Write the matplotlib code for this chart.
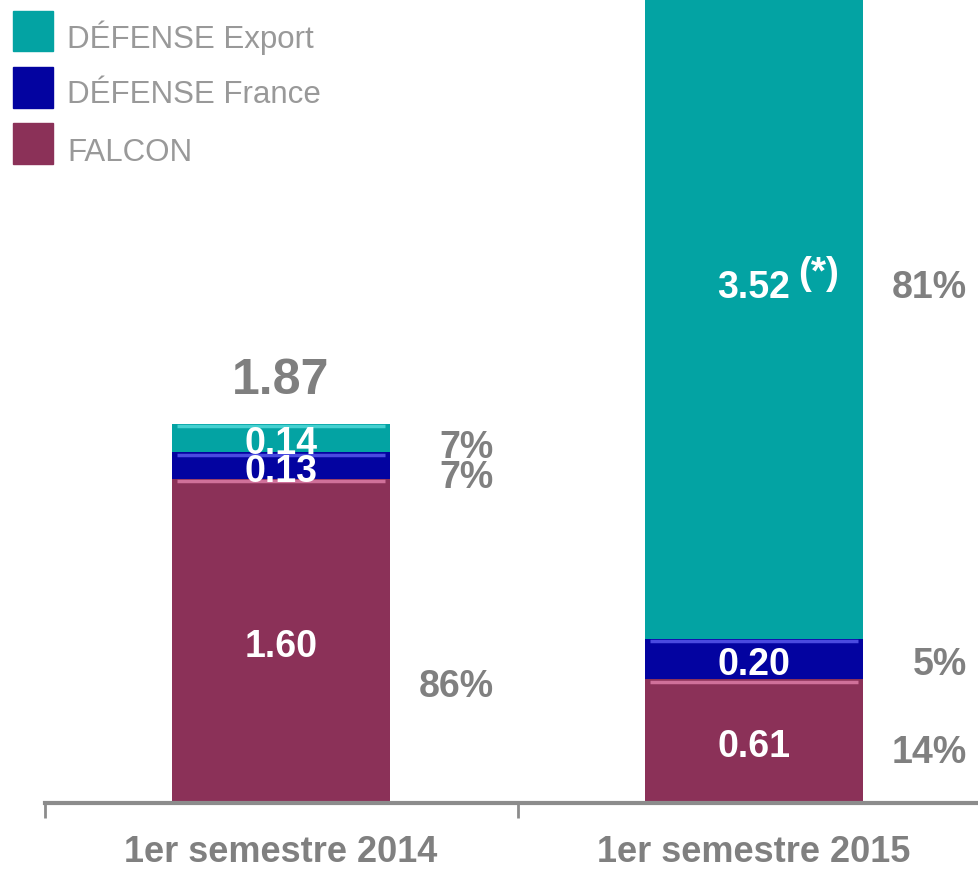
import numpy as np
import matplotlib.pyplot as plt
from matplotlib.patches import Rectangle

plt.rcParams["font.family"] = ["Liberation Sans", "DejaVu Sans"]

categories = ["1er semestre 2014", "1er semestre 2015"]
series = ["FALCON", "DÉFENSE France", "DÉFENSE Export"]
falcon = [1.60, 0.61]
defense_france = [0.13, 0.20]
defense_export = [0.14, 3.52]
totals_shown = ["1.87", None]

colors = {"FALCON": "#8B3158", "DÉFENSE France": "#0303A0", "DÉFENSE Export": "#03A3A3"}
highlight = {"FALCON": "#D0709A", "DÉFENSE France": "#4A4AE0", "DÉFENSE Export": "#45D0D0"}
gray = "#808080"

fig = plt.figure(figsize=(9.79, 8.69), dpi=100)
# axes: baseline at 803 px, categories 473 px apart
ax = fig.add_axes([44.5 / 979, 66 / 869, 946 / 979, 803 / 869])
ax.set_xlim(-0.5, 1.5)
ax.set_ylim(0, 803 / 202.7)

x = np.arange(len(categories))
width = 0.46
data = [falcon, defense_france, defense_export]
bottom = np.zeros(len(categories))
totals = np.sum(data, axis=0)
ymax = ax.get_ylim()[1]
dy = -0.03  # small downward nudge so digits sit visually centred

for name, vals in zip(series, data):
    vals = np.array(vals)
    ax.bar(x, vals, width, bottom=bottom, color=colors[name], edgecolor="none", zorder=2)
    # bevel highlight along the top of each segment
    ax.hlines(bottom + vals - 0.012, x - width / 2 + 0.01, x + width / 2 - 0.01,
              color=highlight[name], lw=2.5, zorder=3)
    for i, v in enumerate(vals):
        top = bottom[i] + v
        yc = (bottom[i] + v / 2 if top < ymax else 2.57) + dy
        ax.text(x[i], yc, f"{v:.2f}", ha="center", va="center", color="white",
                fontsize=27, fontweight="bold", zorder=4)
        if top >= ymax:
            ax.text(x[i] + 0.094, yc + 0.07, "(*)", ha="left", va="center",
                    color="white", fontsize=28, fontweight="bold", zorder=4)
        pct = round(100 * v / totals[i])
        yp = yc
        if name == "FALCON" and i == 0:
            yp = yc - 0.2
        elif name == "FALCON":
            yp = yc - 0.03
        elif name == "DÉFENSE Export" and i == 0:
            yp = yc - 0.02
        elif name == "DÉFENSE France" and i == 0:
            yp = yc - 0.03
        ax.text(x[i] + 0.45, yp, f"{pct}%", ha="right", va="center", color=gray,
                fontsize=27, fontweight="bold")
    bottom += vals

for i, t in enumerate(totals_shown):
    if t:
        ax.text(x[i], totals[i] + 0.21, t, ha="center", va="center", color="#7F7F7F",
                fontsize=36, fontweight="bold")

for s in ["top", "right", "left"]:
    ax.spines[s].set_visible(False)
ax.spines["bottom"].set_color("#8C8C8C")
ax.spines["bottom"].set_linewidth(3)
ax.set_yticks([])
ax.set_xticks(x)
ax.set_xticklabels(categories, fontsize=26, fontweight="bold", color=gray)
ax.tick_params(axis="x", which="major", length=0, pad=23)
ax.set_xticks([-0.5, 0.5], minor=True)
ax.tick_params(axis="x", which="minor", length=11, width=2, color="#8C8C8C")

# legend drawn manually at top-left
legend_rows = [("DÉFENSE Export", 31, 38), ("DÉFENSE France", 87.5, 95), ("FALCON", 143.5, 153)]
for name, yp, yt in legend_rows:
    fig.add_artist(Rectangle((13 / 979, 1 - (yp + 20) / 869), 40 / 979, 40 / 869,
                             transform=fig.transFigure, color=colors[name]))
    fig.text(67 / 979, 1 - yt / 869, name, ha="left", va="center",
             fontsize=22.5, color="#999999")

fig.savefig("out.png", dpi=100)
